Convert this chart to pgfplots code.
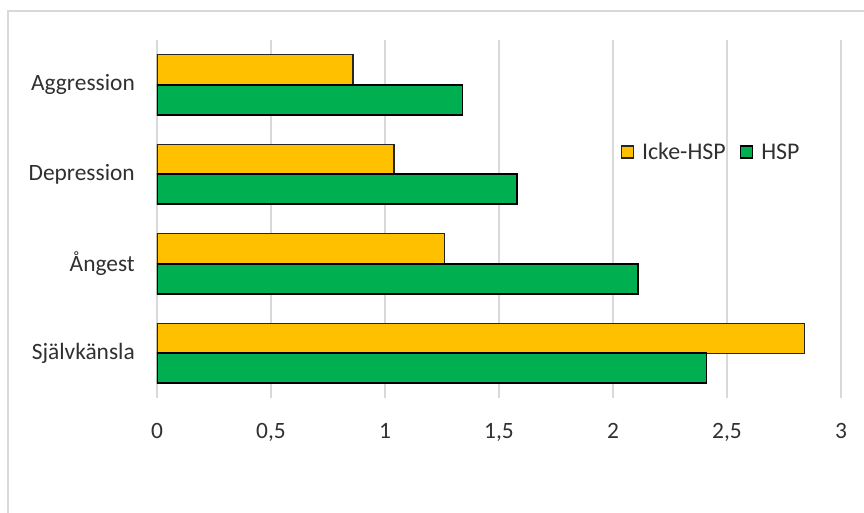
\documentclass[border=0pt]{standalone}
\usepackage{pgfplots}
\pgfplotsset{compat=1.18}
\usepackage{fontspec}
\setmainfont{Carlito}
\definecolor{ickec}{HTML}{FFC000}
\definecolor{hspc}{HTML}{00B050}
\definecolor{gridc}{HTML}{D9D9D9}
\definecolor{txtc}{HTML}{303030}
\begin{document}
\begin{tikzpicture}
\begin{axis}[
  scale only axis,
  width=684bp, height=358bp,
  xmin=0, xmax=3, ymin=-0.5, ymax=3.5,
  xbar,
  axis line style={draw=none},
  major tick length=0pt,
  xtick={0,0.5,1,1.5,2,2.5,3},
  ytick={0,1,2,3},
  yticklabels={Självkänsla,Ångest,Depression,Aggression},
  /pgf/number format/use comma,
  /pgf/number format/assume math mode=true,
  xmajorgrids,
  grid style={gridc, line width=1.5bp},
  every tick label/.append style={font=\fontsize{23.5}{27}\selectfont, text=txtc},
  xticklabel style={anchor=north, inner sep=0pt, yshift=-25bp},
  yticklabel style={anchor=east, inner sep=0pt, xshift=-22bp},
  bar width=0.335,
  legend columns=2,
  legend style={at={(0.678,0.687)}, anchor=west, draw=none, fill=none,
    inner sep=0pt, font=\fontsize{24}{27}\selectfont, text=txtc,
    nodes={inner sep=2.5bp},
    /tikz/every even column/.append style={column sep=12bp}},
  legend image code/.code={\path[draw=none, fill=none] (0bp,0bp) -- (18bp,0bp);\draw[#1, line width=1.2bp] (0bp,-6bp) rectangle (12bp,6bp);},
]
\addplot[fill=ickec, draw=black!85, line width=1.3bp, bar shift=0.1675]
  coordinates {(0.86,3) (1.04,2) (1.26,1) (2.84,0)};
\addlegendentry{Icke-HSP}
\addplot[fill=hspc, draw=black, line width=1.8bp, bar shift=-0.1675]
  coordinates {(1.34,3) (1.58,2) (2.11,1) (2.41,0)};
\addlegendentry{HSP}
\end{axis}
\draw[gridc, line width=1.5bp] (-149bp,-200bp) -- (-149bp,387bp) -- (800bp,387bp);
\pgfresetboundingbox
\path[use as bounding box] (-157bp,-115bp) rectangle (707bp,398bp);
\end{tikzpicture}
\end{document}
